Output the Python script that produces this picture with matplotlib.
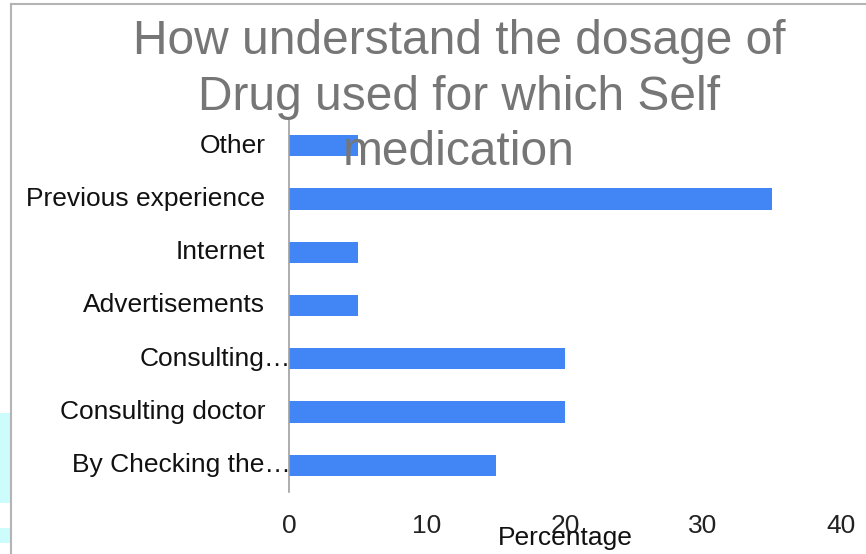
import matplotlib.pyplot as plt
from matplotlib.patches import Rectangle
from matplotlib.lines import Line2D

# Survey answers, bottom to top
categories = ['By Checking the\u2026', 'Consulting doctor', 'Consulting\u2026',
              'Advertisements', 'Internet', 'Previous experience', 'Other']
percentages = [15, 20, 20, 5, 5, 35, 5]
truncated = [True, False, True, False, False, False, False]
xticks = [0, 10, 20, 30, 40]
title_lines = ['How understand the dosage of', 'Drug used for which Self', 'medication']

W, H = 866, 554
fig = plt.figure(figsize=(W / 100, H / 100), dpi=100)
plt.rcParams['font.family'] = ['Liberation Sans', 'DejaVu Sans']

# axes box in pixel terms: x 289..841, y 119..492
ax = fig.add_axes([289 / W, 1 - 492 / H, 552 / W, 373 / H])

ax.barh(range(len(categories)), percentages, height=0.4, color='#4285f4')
ax.set_xlim(0, 40)
ax.set_ylim(-0.5, len(categories) - 0.5)

ax.set_xticks(xticks)
ax.set_xticklabels([str(t) for t in xticks], fontsize=19, color='#222222')
ax.tick_params(axis='x', length=0, pad=16)
ax.set_yticks([])

# category labels, long ones were cut off and sit against the axis
ytrans = ax.get_yaxis_transform()
for i, (name, cut) in enumerate(zip(categories, truncated)):
    xpos = 0.003 if cut else -0.043
    ax.text(xpos, i, name, transform=ytrans, ha='right', va='center',
            fontsize=19, color='#111111')

for side in ['top', 'right', 'bottom']:
    ax.spines[side].set_visible(False)
ax.spines['left'].set_color('#a0a0a0')
ax.spines['left'].set_linewidth(1.2)

ax.set_xlabel('Percentage', fontsize=19, color='#111111', va='baseline')
ax.xaxis.set_label_coords(0.5, (492 - 545) / 373)

# three-line title, one text per line
for k, line in enumerate(title_lines):
    fig.text(459 / W, 1 - (54 + 55.7 * k) / H, line,
             ha='center', va='baseline', fontsize=34.5, color='#767676')

# outer frame lines and the cyan strip on the far left
fig.add_artist(Line2D([11 / W, 11 / W], [0, 1 - 4 / H], transform=fig.transFigure,
                      color='#b4b4b4', lw=1.5))
fig.add_artist(Line2D([11 / W, 1], [1 - 4 / H, 1 - 4 / H], transform=fig.transFigure,
                      color='#b4b4b4', lw=1.5))
fig.add_artist(Rectangle((0, 1 - 503 / H), 10 / W, 90 / H, transform=fig.transFigure,
                         color='#ccfcfc', lw=0))
fig.add_artist(Rectangle((0, 1 - 543 / H), 10 / W, 15 / H, transform=fig.transFigure,
                         color='#ccfcfc', lw=0))

fig.savefig('out.png', dpi=100)
